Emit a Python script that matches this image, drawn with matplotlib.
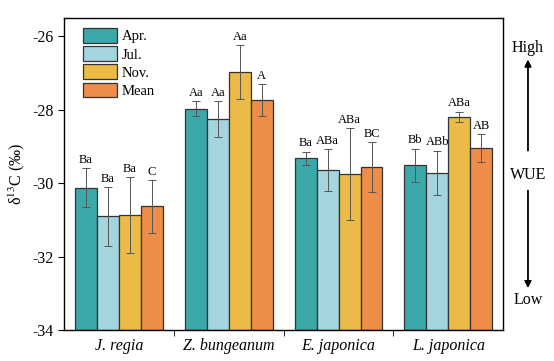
import matplotlib.pyplot as plt
import numpy as np

plt.rcParams['font.family'] = ['Liberation Serif', 'DejaVu Serif']
plt.rcParams['mathtext.fontset'] = 'stix'

species = ['J. regia', 'Z. bungeanum', 'E. japonica', 'L. japonica']
seasons = ['Apr.', 'Jul.', 'Nov.', 'Mean']
colors = ['#3ba8a9', '#a4d4de', '#ebba47', '#ee8d49']

apr = [-30.12, -27.97, -29.32, -29.51]
jul = [-30.90, -28.25, -29.65, -29.71]
nov = [-30.87, -26.97, -29.75, -28.19]
mean = [-30.63, -27.74, -29.57, -29.04]

apr_err = [0.54, 0.20, 0.18, 0.45]
jul_err = [0.80, 0.49, 0.57, 0.60]
nov_err = [1.04, 0.73, 1.26, 0.14]
mean_err = [0.72, 0.44, 0.68, 0.38]

apr_lab = ['Ba', 'Aa', 'Ba', 'Bb']
jul_lab = ['Ba', 'Aa', 'ABa', 'ABb']
nov_lab = ['Ba', 'Aa', 'ABa', 'ABa']
mean_lab = ['C', 'A', 'BC', 'AB']

values = [apr, jul, nov, mean]
errors = [apr_err, jul_err, nov_err, mean_err]
letters = [apr_lab, jul_lab, nov_lab, mean_lab]

fig = plt.figure(figsize=(5.54, 3.61), dpi=100)
ax = fig.add_axes([0.1155, 0.086, 0.793, 0.864])

bottom = -34
x = np.arange(len(species))
w = 0.2
for i in range(4):
    pos = x + (i - 1.5) * w
    vals = np.array(values[i])
    ax.bar(pos, vals - bottom, w, bottom=bottom, color=colors[i],
           edgecolor='#333333', linewidth=0.9, label=seasons[i], zorder=2)
    ax.errorbar(pos, vals, yerr=errors[i], fmt='none', ecolor='#555555',
                elinewidth=0.7, capsize=3, capthick=0.7, zorder=3)
    for p, v, e, t in zip(pos, vals, errors[i], letters[i]):
        ax.text(p, v + e + 0.06, t, ha='center', va='bottom', fontsize=9)

ax.set_xlim(-0.5, 3.5)
ax.set_ylim(-34, -25.5)
ax.set_yticks([-34, -32, -30, -28, -26])
ax.set_yticklabels(['-34', '-32', '-30', '-28', '-26'])
ax.set_xticks(x)
ax.set_xticklabels(species, fontstyle='italic', fontsize=11.5)
ax.set_xticks([0.5, 1.5, 2.5], minor=True)
ax.tick_params(axis='x', which='major', length=0, pad=6)
ax.tick_params(axis='x', which='minor', length=4, direction='out')
ax.tick_params(axis='y', labelsize=11.5, length=4, direction='out')
for s in ax.spines.values():
    s.set_linewidth(1.0)
ax.set_ylabel('δ$^{13}$C (‰)', fontsize=11.5, labelpad=4)

ax.legend(loc='upper left', frameon=False, fontsize=10.5, handlelength=2.3,
          handleheight=1.15, labelspacing=0.2, handletextpad=0.35,
          borderaxespad=0.3, bbox_to_anchor=(0.02, 1.0))

xa = 0.953
fig.text(xa, 0.867, 'High', ha='center', va='center', fontsize=11.5)
fig.text(xa, 0.515, 'WUE', ha='center', va='center', fontsize=11.5)
fig.text(xa, 0.169, 'Low', ha='center', va='center', fontsize=11.5)
fig.add_artist(plt.annotate('', xy=(xa, 0.842), xytext=(xa, 0.575),
                            xycoords='figure fraction',
                            arrowprops=dict(arrowstyle='-|>', color='black', lw=1.0)))
fig.add_artist(plt.annotate('', xy=(xa, 0.195), xytext=(xa, 0.48),
                            xycoords='figure fraction',
                            arrowprops=dict(arrowstyle='-|>', color='black', lw=1.0)))

fig.savefig('out.png', dpi=100)
